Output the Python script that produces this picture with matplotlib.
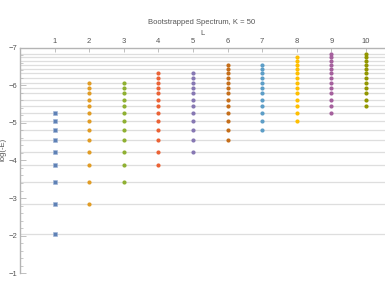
import matplotlib
matplotlib.use('Agg')
import matplotlib.pyplot as plt
from matplotlib.ticker import MultipleLocator
import numpy as np

# energy levels, log(-E), from lowest to highest
levels = [-2.048, -2.852, -3.415, -3.865, -4.217, -4.540, -4.804, -5.048,
          -5.259, -5.452, -5.611, -5.778, -5.921, -6.053, -6.185, -6.317,
          -6.431, -6.537, -6.635, -6.741, -6.820]

L_vals = [1, 2, 3, 4, 5, 6, 7, 8, 9, 10]
# index range into levels present for each L
lowest = [0, 1, 2, 3, 4, 5, 6, 7, 8, 9]
highest = [8, 13, 13, 15, 15, 17, 17, 19, 20, 20]

colors = ['#5E81B5', '#E19C24', '#8FB032', '#EB6235', '#8778B3',
          '#C56E1A', '#5D9EC7', '#FFBF00', '#A5609D', '#929600']

plt.rcParams['font.family'] = ['Liberation Sans', 'DejaVu Sans']
txt = '#555555'
spine = '#b4b4b4'

fig = plt.figure(figsize=(3.85, 2.98), dpi=100)
ax = fig.add_axes([20 / 385, 1 - 273.3 / 298, 365 / 385, (273.3 - 47.5) / 298])

for lev in levels:
    ax.axhline(lev, color='#dedede', lw=0.9, zorder=1)

for i, L in enumerate(L_vals):
    ys = levels[lowest[i]:highest[i] + 1]
    if L == 1:
        ax.plot([L] * len(ys), ys, ls='none', marker='s', ms=3.2,
                color=colors[i], mec='#9fb3d6', mew=0.4, zorder=3)
    else:
        ax.plot([L] * len(ys), ys, ls='none', marker='o', ms=3.0,
                color=colors[i], mew=0, zorder=3)

ax.set_xlim(0, 10.55)
ax.set_ylim(-1, -7)

ax.xaxis.tick_top()
ax.xaxis.set_label_position('top')
ax.set_xticks(L_vals)
ax.set_xlabel('L', fontsize=5.5, color=txt, labelpad=2)
ax.set_ylabel('log(-E)', fontsize=5.5, color=txt)
ax.yaxis.set_label_coords(-0.036, 0.55)
ax.yaxis.set_major_locator(MultipleLocator(1))
ax.yaxis.set_minor_locator(MultipleLocator(0.2))

ax.tick_params(axis='x', which='major', direction='in', length=3, width=0.6,
               color=spine, labelsize=5.5, labelcolor=txt, pad=2)
ax.tick_params(axis='y', which='major', direction='in', length=4, width=0.6,
               color=spine, labelsize=5.5, labelcolor=txt, pad=2)
ax.tick_params(axis='y', which='minor', direction='in', length=2, width=0.5,
               color=spine)

for s in ['right', 'bottom']:
    ax.spines[s].set_visible(False)
for s in ['top', 'left']:
    ax.spines[s].set_color(spine)
    ax.spines[s].set_linewidth(1.0)

fig.text(202 / 385, 1 - 23 / 298, 'Bootstrapped Spectrum, K = 50',
         ha='center', va='center', fontsize=5.5, color=txt)

fig.savefig('out.png', dpi=100)
